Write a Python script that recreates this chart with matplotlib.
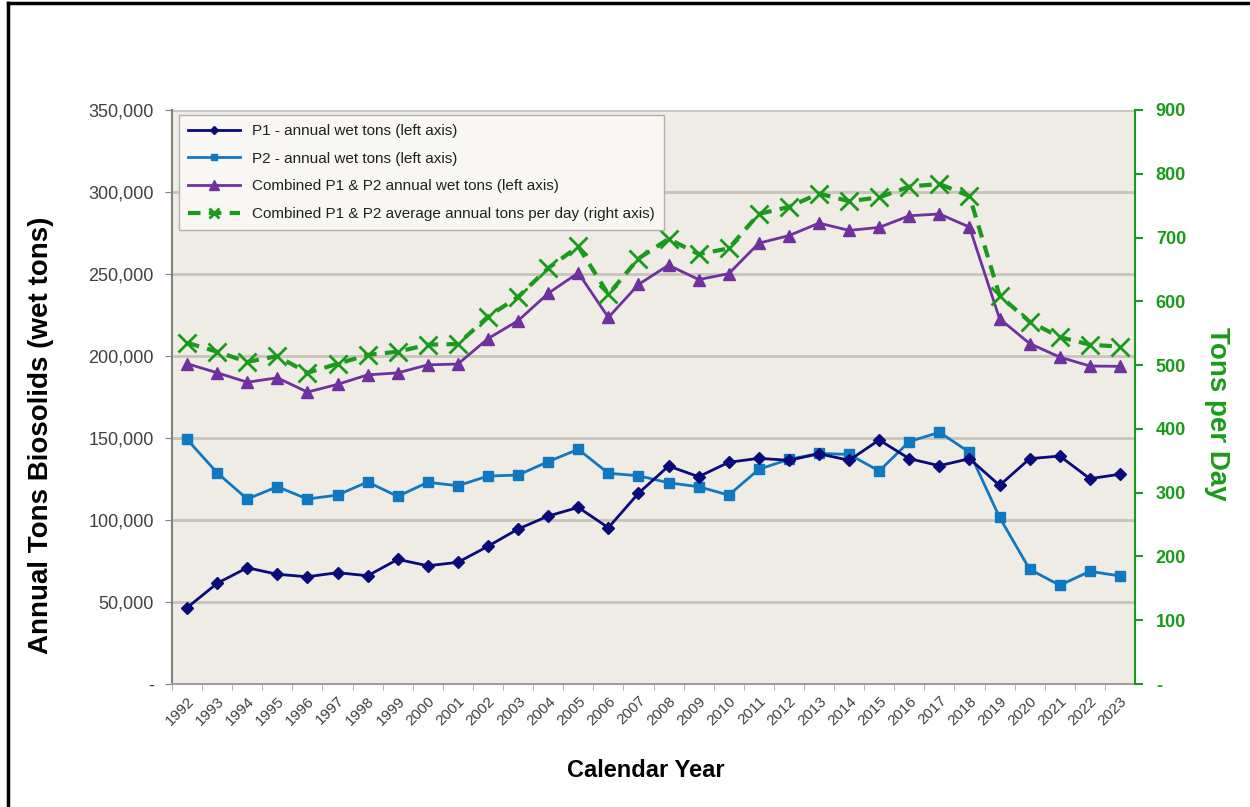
import matplotlib
matplotlib.use("Agg")
import matplotlib.pyplot as plt
from matplotlib.ticker import FuncFormatter
from matplotlib.lines import Line2D

plt.rcParams['font.family'] = ['Liberation Sans', 'DejaVu Sans']

years = list(range(1992, 2024))

p1_tons = [46500, 61400, 70900, 66900, 65400, 67900, 66000, 76000, 72100, 74200,
           84000, 94500, 102400, 107700, 95300, 116300, 132900, 126400, 135200, 137600,
           136400, 140400, 136400, 148800, 137400, 133100, 137400, 121100, 137400, 139000,
           125200, 127900]

p2_tons = [149200, 128800, 112800, 120300, 112800, 115200, 123200, 114400, 123000, 120900,
           126800, 127400, 135600, 143100, 128500, 127000, 122700, 120300, 115200, 130900,
           137000, 140600, 140000, 129900, 147800, 153500, 141300, 101600, 69900, 60200,
           68700, 65900]

combined_tons = [195300, 189800, 184000, 186700, 178000, 182700, 188500, 189700, 194600, 195100,
                 210600, 221500, 238200, 250700, 223500, 243600, 255400, 246600, 250200, 268800,
                 273400, 281000, 276600, 278400, 285500, 286600, 278600, 222700, 207600, 199300,
                 193900, 193700]

tons_per_day = [535, 521, 505, 514, 488, 502, 516, 521, 532, 533,
                576, 607, 652, 686, 611, 667, 698, 674, 683, 737,
                748, 769, 757, 763, 780, 784, 765, 609, 568, 544,
                532, 529]

left_ticks = [0, 50000, 100000, 150000, 200000, 250000, 300000, 350000]
right_ticks = [0, 100, 200, 300, 400, 500, 600, 700, 800, 900]

navy = '#0a0a7a'
blue = '#0f78c0'
purple = '#7030a0'
green = '#1a9a1a'
grid_c = '#c8c4bc'
text_c = '#404040'

fig = plt.figure(figsize=(12.5, 8.07), dpi=100)
ax = fig.add_axes([0.1376, 0.1524, 0.7704, 0.7113])
ax.set_facecolor('#efece5')

ax.plot(years, p1_tons, color=navy, lw=2, marker='D', ms=6, zorder=4)
ax.plot(years, p2_tons, color=blue, lw=2, marker='s', ms=7, zorder=3)
ax.plot(years, combined_tons, color=purple, lw=2, marker='^', ms=9, zorder=3)

ax.set_xlim(1991.5, 2023.5)
ax.set_ylim(0, 350000)
ax.set_yticks(left_ticks)
ax.yaxis.set_major_formatter(FuncFormatter(lambda v, p: '-' if v == 0 else f'{int(v):,}'))
ax.tick_params(axis='y', colors='#808080', labelcolor=text_c, labelsize=13, length=5, pad=8)
ax.set_xticks(years)
ax.set_xticklabels([str(y) for y in years], rotation=45, ha='right', rotation_mode='anchor',
                   fontsize=11, color=text_c)
# excel style ticks sit between the categories
ax.set_xticks([y + 0.5 for y in years[:-1]] + [1991.5], minor=True)
ax.tick_params(axis='x', which='major', length=0, pad=7)
ax.tick_params(axis='x', which='minor', length=4, color='#a0a0a0')
ax.grid(axis='y', color=grid_c, lw=2)
ax.set_axisbelow(True)
for s in ['top', 'right']:
    ax.spines[s].set_visible(False)
ax.spines['left'].set_color('#808080')
ax.spines['left'].set_linewidth(1.5)
ax.spines['bottom'].set_color('#a0a0a0')
ax.spines['bottom'].set_linewidth(1.5)

ax2 = ax.twinx()
ax2.plot(years, tons_per_day, color=green, lw=3, ls=(0, (3, 2)), marker='x', ms=13, mew=2,
         zorder=5)
ax2.set_ylim(0, 900)
ax2.set_yticks(right_ticks)
ax2.yaxis.set_major_formatter(FuncFormatter(lambda v, p: '-' if v == 0 else f'{int(v)}'))
ax2.tick_params(axis='y', colors=green, labelsize=13, length=6, width=1.5, pad=9)
for lab in ax2.get_yticklabels():
    lab.set_fontweight('bold')
for s in ['top', 'left', 'bottom']:
    ax2.spines[s].set_visible(False)
ax2.spines['right'].set_color(green)
ax2.spines['right'].set_linewidth(1.5)

ax.set_ylabel('Annual Tons Biosolids (wet tons)', fontsize=20, fontweight='bold',
              color='black')
ax.yaxis.set_label_coords(-0.123, 0.434)
ax2.set_ylabel('Tons per Day', fontsize=20, fontweight='bold', color=green,
               rotation=-90, va='center')
ax2.yaxis.set_label_coords(1.085, 0.47)
ax.set_xlabel('Calendar Year', fontsize=17, fontweight='bold', color='black')
ax.xaxis.set_label_coords(0.492, -0.131)

handles = [
    Line2D([], [], color=navy, lw=2, marker='D', ms=4),
    Line2D([], [], color=blue, lw=2, marker='s', ms=5),
    Line2D([], [], color=purple, lw=2, marker='^', ms=7),
    Line2D([], [], color=green, lw=3, ls=(0, (3, 2)), marker='x', ms=7, mew=2),
]
labels = [
    'P1 - annual wet tons (left axis)',
    'P2 - annual wet tons (left axis)',
    'Combined P1 & P2 annual wet tons (left axis)',
    'Combined P1 & P2 average annual tons per day (right axis)',
]
leg = ax2.legend(handles, labels, loc='upper left', bbox_to_anchor=(0.004, 0.997),
                 borderaxespad=0.2, fontsize=11, frameon=True, fancybox=False,
                 labelspacing=0.9, handlelength=3.4, borderpad=0.6, edgecolor='#b0b0b0')
leg.get_frame().set_facecolor('#f8f7f4')
leg.get_frame().set_alpha(1)
for t in leg.get_texts():
    t.set_color('#202020')

# page border (top and left edges)
fig.add_artist(Line2D([0.0065, 0.0065], [0, 0.996], color='black', lw=2.5,
                      transform=fig.transFigure))
fig.add_artist(Line2D([0.0065, 1.0], [0.996, 0.996], color='black', lw=2.5,
                      transform=fig.transFigure))

fig.savefig('out.png', dpi=100, facecolor='white')
